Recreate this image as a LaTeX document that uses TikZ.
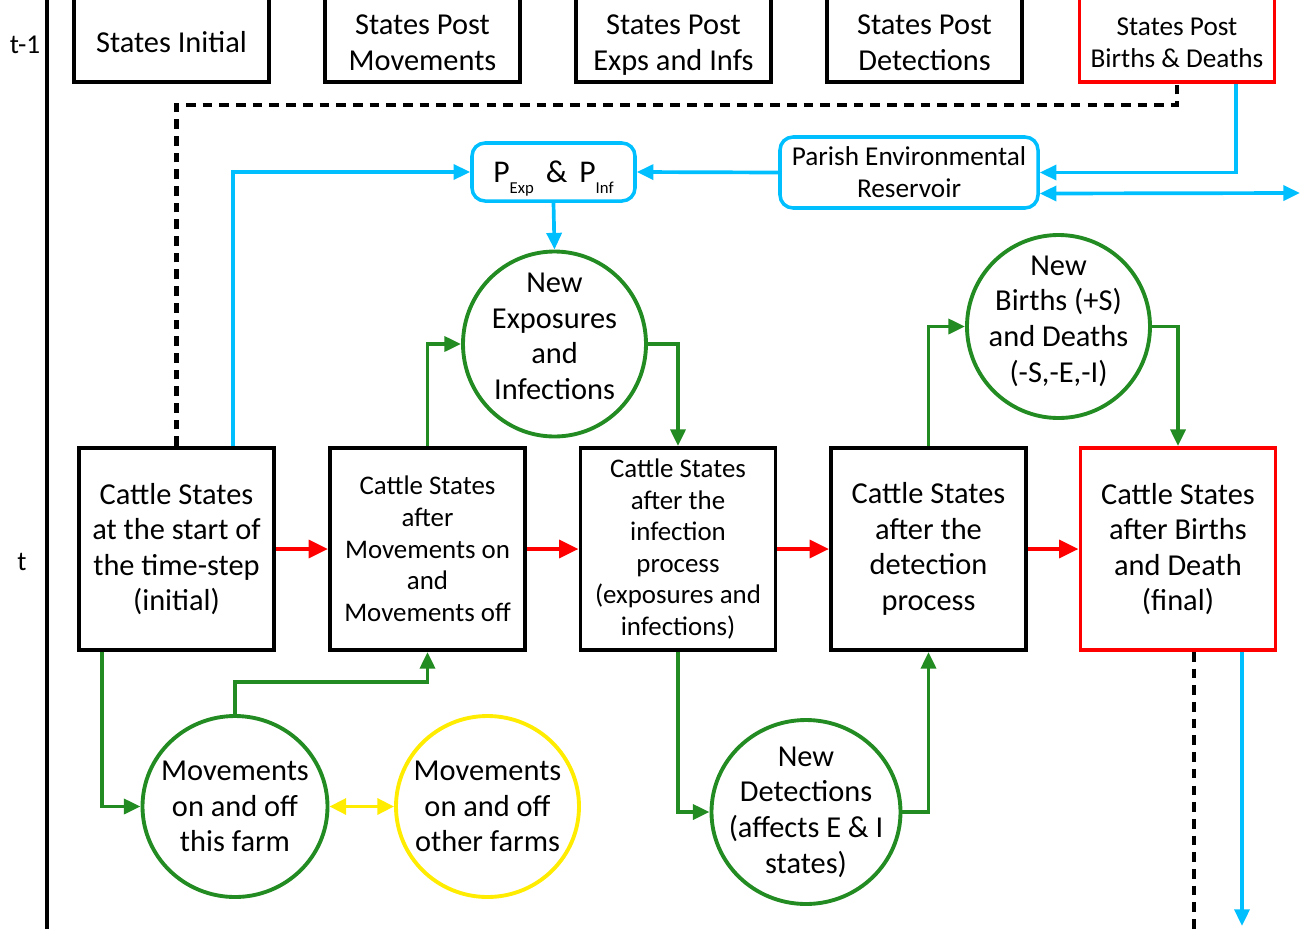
\documentclass[tikz,border=0pt]{standalone}
\usepackage{fontspec}
\setmainfont{Carlito}
\usepackage{tikz}
\usepackage{xcolor}
\usetikzlibrary{arrows.meta,shapes.geometric,calc}
\definecolor{flowgreen}{RGB}{34,139,34}
\definecolor{envblue}{RGB}{0,191,255}
\definecolor{moveyellow}{RGB}{255,236,0}
\tikzset{statebox/.style={draw,line width=2.2pt,minimum width=3.9cm,minimum height=4.04cm,align=center,inner sep=1pt}}
\tikzset{prevbox/.style={draw,line width=2.2pt,minimum width=3.9cm,minimum height=2.04cm,align=center,font=\fontsize{17.3}{20}\selectfont}}
\tikzset{eventnode/.style={ellipse,draw,line width=2.2pt,align=center,inner sep=-0.4cm,font=\fontsize{17.3}{20.3}\selectfont}}
\tikzset{envbox/.style={draw=envblue,line width=2pt,rounded corners=0.26cm,align=center}}
\tikzset{greenflow/.style={draw=flowgreen,line width=2.1pt,-{Triangle[length=9.5pt,width=8.5pt]}}}
\tikzset{blueflow/.style={draw=envblue,line width=2.1pt,-{Triangle[length=9.5pt,width=8.5pt]}}}
\tikzset{redflow/.style={draw=red,line width=2.3pt,-{Triangle[length=11pt,width=10pt]}}}
\tikzset{timelink/.style={line width=2.6pt,dash pattern=on 5.5pt off 4pt}}
\newcommand{\sbs}[1]{\raisebox{-0.7ex}[0pt][0pt]{\fontsize{9.5}{10}\selectfont #1}}
\newcommand{\lowtext}[1]{\raisebox{-0.29cm}[\height][\depth]{\begin{tabular}{@{}c@{}}#1\end{tabular}}}
\newcommand{\hightext}[1]{\raisebox{0.1cm}[\height][\depth]{\begin{tabular}{@{}c@{}}#1\end{tabular}}}

\begin{document}
\begin{tikzpicture}
    \clip (0,0) rectangle (26,-18.58);
    % time axis
    \draw[line width=2.2pt] (0.94,0) -- (0.94,-18.58);
    \node[font=\fontsize{15.5}{18}\selectfont] (tprev) at (0.5,-0.9) {t-1};
    \node[font=\fontsize{15.5}{18}\selectfont] (tnow) at (0.44,-11.24) {t};
    % states at the previous time-step
    \node[prevbox] (sinit) at (3.43,-0.62) {\lowtext{States Initial}};
    \node[prevbox] (smov) at (8.45,-0.62) {\lowtext{States Post\\Movements}};
    \node[prevbox] (sexp) at (13.47,-0.62) {\lowtext{States Post\\Exps and Infs}};
    \node[prevbox] (sdet) at (18.49,-0.62) {\lowtext{States Post\\Detections}};
    \node[prevbox,draw=red,font=\fontsize{15.5}{18.1}\selectfont] (sbd) at (23.54,-0.62) {\lowtext{States Post\\Births \& Deaths}};
    % states at this time-step
    \node[statebox,font=\fontsize{17.3}{20.2}\selectfont] (boxA) at (3.53,-10.98) {Cattle States\\at the start of\\the time-step\\(initial)};
    \node[statebox,font=\fontsize{15.3}{18}\selectfont] (boxB) at (8.55,-10.98) {Cattle States\\after\\Movements on\\and\\Movements off};
    \node[statebox,font=\fontsize{15.3}{17.9}\selectfont] (boxC) at (13.56,-10.98) {Cattle States\\after the\\infection\\process\\(exposures and\\infections)};
    \node[statebox,font=\fontsize{17.3}{20.2}\selectfont] (boxD) at (18.57,-10.98) {Cattle States\\after the\\detection\\process};
    \node[statebox,draw=red,font=\fontsize{17.3}{20.2}\selectfont] (boxE) at (23.56,-10.98) {Cattle States\\after Births\\and Death\\(final)};
    % environment
    \node[envbox,minimum width=3.26cm,minimum height=1.16cm,font=\fontsize{18}{18}\selectfont] (pexp) at (11.07,-3.44) {P\sbs{Exp}\hspace{0.24cm}\&\hspace{0.24cm}P\sbs{Inf}};
    \node[envbox,minimum width=5.16cm,minimum height=1.42cm,font=\fontsize{15.5}{18.1}\selectfont] (res) at (18.18,-3.45) {Parish Environmental\\Reservoir};
    % events
    \node[eventnode,draw=flowgreen,minimum width=3.66cm,minimum height=3.7cm] (exps) at (11.09,-6.88) {\hightext{New\\Exposures\\and\\Infections}};
    \node[eventnode,draw=flowgreen,minimum width=3.66cm,minimum height=3.66cm] (births) at (21.17,-6.53) {\hightext{New\\Births (+S)\\and Deaths\\(-S,-E,-I)}};
    \node[eventnode,draw=flowgreen,minimum width=3.7cm,minimum height=3.62cm] (mthis) at (4.7,-16.13) {Movements\\on and off\\this farm};
    \node[eventnode,draw=moveyellow,minimum width=3.66cm,minimum height=3.62cm] (mother) at (9.75,-16.13) {Movements\\on and off\\other farms};
    \node[eventnode,draw=flowgreen,minimum width=3.78cm,minimum height=3.68cm] (det) at (16.12,-16.24) {New\\Detections\\(affects E \& I\\states)};
    % helper points
    \coordinate (dk) at (0,-2.1);
    \coordinate (mv) at (0,-13.64);
    \coordinate (rout) at (26,-3.86);
    \coordinate (bottom) at (0,-18.6);
    % main sequence
    \draw[redflow] (boxA) -- (boxB);
    \draw[redflow] (boxB) -- (boxC);
    \draw[redflow] (boxC) -- (boxD);
    \draw[redflow] (boxD) -- (boxE);
    % link between time-steps
    \draw[timelink] (boxA.north) -- (boxA.north |- dk) -| (sbd.south);
    \draw[timelink] ([xshift=0.32cm]boxE.south) -- ([xshift=0.32cm]boxE.south |- bottom);
    % environment flows
    \draw[blueflow] ([xshift=1.13cm]boxA.north) |- (pexp.west);
    \draw[blueflow] (res.west) -- (pexp.east);
    \draw[blueflow] (pexp.south) -- (exps.north);
    \draw[blueflow] ([xshift=1.18cm]sbd.south) |- (res.east);
    \draw[blueflow,{Triangle[length=9.5pt,width=8.5pt]}-{Triangle[length=9.5pt,width=8.5pt]}] ([yshift=-0.42cm]res.east) -- (rout);
    \draw[blueflow] ([xshift=1.28cm]boxE.south) -- ([xshift=1.28cm,yshift=0.08cm]boxE.south |- bottom);
    % event flows
    \draw[greenflow] (boxB.north) |- (exps.west);
    \draw[greenflow] (exps.east) -| (boxC.north);
    \draw[greenflow] (boxD.north) |- (births.west);
    \draw[greenflow] (births.east) -| (boxE.north);
    \draw[greenflow] ([xshift=-1.49cm]boxA.south) |- (mthis.west);
    \draw[greenflow] (mthis.north) -- (mthis.north |- mv) -| (boxB.south);
    \draw[greenflow] (boxC.south) |- (det.west);
    \draw[greenflow] (det.east) -| (boxD.south);
    \draw[draw=moveyellow,line width=2.1pt,{Triangle[length=9.5pt,width=9pt]}-{Triangle[length=9.5pt,width=9pt]}] (mthis.east) -- (mother.west);
\end{tikzpicture}
\end{document}
